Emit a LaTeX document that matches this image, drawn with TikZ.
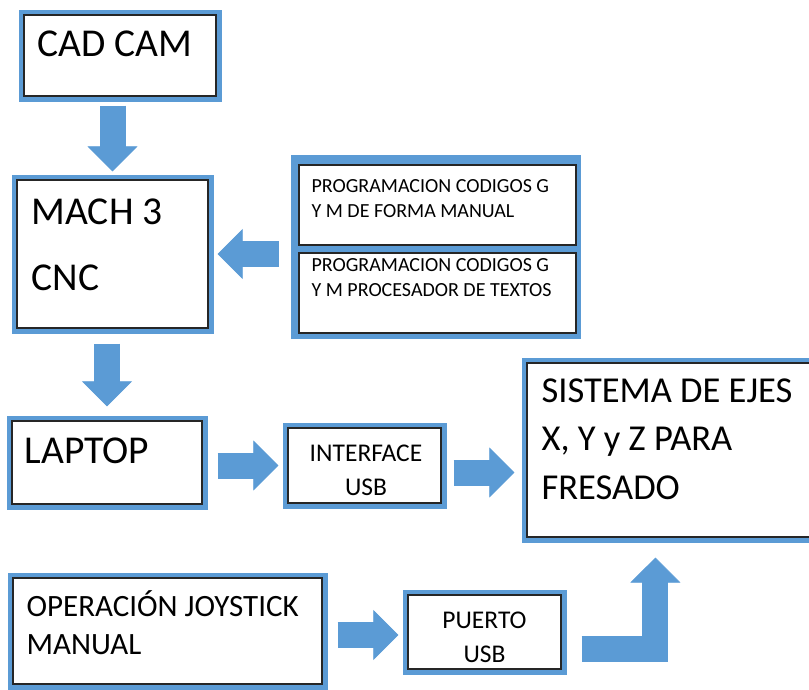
\documentclass[tikz,border=0pt]{standalone}
\usepackage{fontspec}
\setmainfont{Carlito}
\usetikzlibrary{arrows.meta,calc,positioning}
\definecolor{boxblue}{HTML}{5B9BD5}

\begin{document}
\begin{tikzpicture}[
  x=1pt, y=-1pt,
  box/.style 2 args={
    draw=black!85,
    line width=1.2pt,
    fill=white,
    inner sep=0pt,
    minimum width=#1,
    minimum height=#2,
    preaction={draw=boxblue, line width=11pt}
  },
  inbox/.style 2 args={
    draw=black!85,
    line width=1.2pt,
    fill=white,
    inner sep=0pt,
    minimum width=#1,
    minimum height=#2
  },
  bigtxt/.style={font=\fontsize{39.5pt}{66pt}\selectfont, inner sep=0pt, anchor=base west, align=left},
  axtxt/.style={font=\fontsize{36.5pt}{48.5pt}\selectfont, inner sep=0pt, anchor=base west, align=left},
  joytxt/.style={font=\fontsize{31pt}{38pt}\selectfont, inner sep=0pt, anchor=base west, align=left},
  midtxt/.style={font=\fontsize{25.5pt}{34pt}\selectfont, inner sep=0pt, anchor=base, align=center},
  smalltxt/.style={font=\fontsize{20pt}{25.5pt}\selectfont, inner sep=0pt, anchor=base west, align=left},
  blockarrow/.style={draw=boxblue, line width=26pt,
    -{Triangle[width=50pt, length=25pt, line width=0.5pt]}}
]
\useasboundingbox (0,0) rectangle (809,689);
\clip (0,0) rectangle (809,689);

% boxes
\node[box={192pt}{81pt}] (cad) at (120,55.5) {};
\node[box={191pt}{148pt}] (mach) at (112.5,254) {};
\node[fill=boxblue, inner sep=0pt, minimum width=290pt, minimum height=184pt] (prog) at (436,247) {};
\node[inbox={277pt}{80pt}] (progman) at (437.5,205) {};
\node[inbox={277pt}{80pt}] (progtxt) at (437.5,293) {};
\node[box={190pt}{83pt}] (laptop) at (107,462.5) {};
\node[box={153pt}{75pt}] (interface) at (364.5,465.5) {};
\node[box={288pt}{174pt}] (sistema) at (671,450) {};
\node[box={309pt}{106pt}] (joystick) at (167.5,631) {};
\node[box={153pt}{74pt}] (puerto) at (484.5,632) {};

% texts (base = last line)
\node[bigtxt] (cadlbl) at ($(cad.north west)+(14,42)$) {CAD CAM};
\node[bigtxt] (machlbl) at ($(mach.north west)+(15,111)$) {MACH 3\\CNC};
\node[smalltxt] (progmanlbl) at ($(progman.north west)+(13,53.5)$) {PROGRAMACION CODIGOS G\\Y M DE FORMA MANUAL};
\node[smalltxt] (progtxtlbl) at ($(progtxt.north west)+(13,44.5)$) {PROGRAMACION CODIGOS G\\Y M PROCESADOR DE TEXTOS};
\node[bigtxt] (laptoplbl) at ($(laptop.north west)+(13,43)$) {LAPTOP};
\node[midtxt] (interfacelbl) at ($(interface.center)+(1.5,29.5)$) {INTERFACE\\USB};
\node[axtxt] (sistemalbl) at ($(sistema.north west)+(15,137)$) {SISTEMA DE EJES\\X, Y y Z PARA\\FRESADO};
\node[joytxt] (joysticklbl) at ($(joystick.north west)+(14,77)$) {OPERACIÓN JOYSTICK\\MANUAL};
\node[midtxt] (puertolbl) at ($(puerto.center)+(0,30)$) {PUERTO\\USB};

% block arrows
\draw[blockarrow, shorten <=9pt, shorten >=8pt] (cad.south -| mach.north) -- (mach.north);
\draw[blockarrow, shorten <=15pt, shorten >=14pt] (mach.south -| laptop.north) -- (laptop.north);
\draw[blockarrow, shorten <=12pt, shorten >=9pt] (prog.west |- mach.east) -- (mach.east);
\draw[blockarrow, shorten <=15pt, shorten >=9pt] (laptop.east |- interface.west) -- (interface.west);
\draw[blockarrow, shorten <=12pt, shorten >=12pt] ($(interface.east)+(0,7)$) -- ($(interface.east -| sistema.west)+(0,7)$);
\draw[blockarrow, shorten <=15pt, shorten >=9pt] ($(joystick.east |- puerto.west)+(0,3)$) -- ($(puerto.west)+(0,3)$);
\draw[blockarrow, shorten <=20pt, shorten >=20pt] ($(puerto.east)+(0,17)$) -| ($(sistema.south west)+(129,0)$);
\end{tikzpicture}
\end{document}
